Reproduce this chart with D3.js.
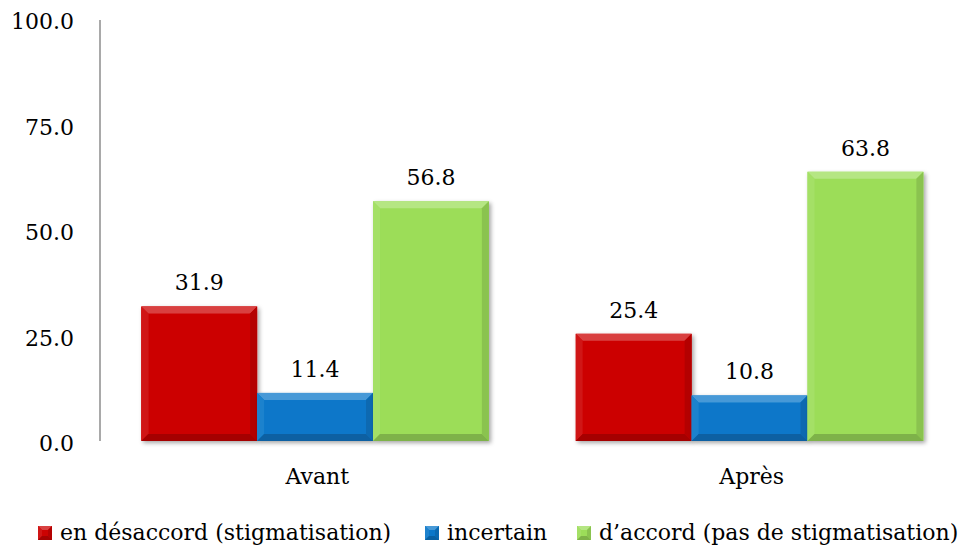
<!DOCTYPE html>
<html>
<head>
<meta charset="utf-8">
<script src="https://cdn.jsdelivr.net/npm/d3@7"></script>
<style>
  html, body { margin: 0; padding: 0; background: #fff; overflow: hidden; }
</style>
</head>
<body>
<svg id="chart" width="958" height="548"></svg>
<script>
const categories = ["Avant", "Après"];
const seriesNames = ["en désaccord (stigmatisation)", "incertain", "d’accord (pas de stigmatisation)"];
const seriesColors = ["#CC0202", "#0A77C9", "#9CDD59"];
const avantValues = [31.9, 11.4, 56.8];
const apresValues = [25.4, 10.8, 63.8];
const yTicks = [0, 25, 50, 75, 100];

const values = [avantValues, apresValues];

const FONT = "DejaVu Serif";
const svg = d3.select("#chart");
const fontSize = 22;

const plotLeft = 100, plotRight = 969, plotTop = 19, plotBottom = 441;

const x0 = d3.scaleBand().domain(categories).range([plotLeft, plotRight]).padding(0);
const bw = x0.bandwidth();
const x1 = d3.scaleBand().domain(seriesNames).range([bw * 0.095, bw * 0.895]).padding(0);
const y = d3.scaleLinear().domain([0, 100]).range([plotBottom, plotTop]);

const defs = svg.append("defs");
const f = defs.append("filter").attr("id", "shadow").attr("x", "-10%").attr("y", "-10%").attr("width", "130%").attr("height", "130%");
f.append("feDropShadow").attr("dx", 2).attr("dy", 2).attr("stdDeviation", 2).attr("flood-color", "#000").attr("flood-opacity", 0.35);
const f2 = defs.append("filter").attr("id", "axshadow").attr("x", "-5%").attr("y", "-50%").attr("width", "110%").attr("height", "300%");
f2.append("feDropShadow").attr("dx", 0).attr("dy", 2).attr("stdDeviation", 1).attr("flood-color", "#000").attr("flood-opacity", 0.25);

function bevel(g, x, yy, w, h, color, b) {
  b = Math.min(b, h / 2, w / 2);
  const c = d3.color(color);
  g.append("rect").attr("x", x).attr("y", yy).attr("width", w).attr("height", h).attr("fill", color);
  const topC = d3.interpolateRgb(color, "#ffffff")(0.25);
  const leftC = d3.interpolateRgb(color, "#ffffff")(0.08);
  const rightC = c.darker(0.35).formatRgb();
  const botC = c.darker(0.6).formatRgb();
  const poly = (pts, fill) => g.append("polygon").attr("points", pts.map(p => p.join(",")).join(" ")).attr("fill", fill);
  poly([[x, yy], [x + w, yy], [x + w - b, yy + b], [x + b, yy + b]], topC);
  poly([[x, yy], [x + b, yy + b], [x + b, yy + h - b], [x, yy + h]], leftC);
  poly([[x + w, yy], [x + w, yy + h], [x + w - b, yy + h - b], [x + w - b, yy + b]], rightC);
  poly([[x, yy + h], [x + b, yy + h - b], [x + w - b, yy + h - b], [x + w, yy + h]], botC);
}

function styleText(sel) {
  sel.attr("font-family", FONT).attr("font-size", fontSize).attr("fill", "#000");
}

const axisColor = "#8c8c8c";
svg.append("line").attr("x1", plotLeft).attr("x2", 958).attr("y1", plotBottom).attr("y2", plotBottom)
  .attr("stroke", axisColor).attr("stroke-width", 1.5).attr("filter", "url(#axshadow)");
svg.append("line").attr("x1", plotLeft).attr("x2", plotLeft).attr("y1", y(100) + 1).attr("y2", plotBottom)
  .attr("stroke", axisColor).attr("stroke-width", 1.5);

const yAxis = d3.axisLeft(y).tickValues(yTicks).tickSize(0).tickPadding(26).tickFormat(d3.format(".1f"));
const gy = svg.append("g").attr("transform", `translate(${plotLeft},0)`).call(yAxis);
gy.select(".domain").remove();
gy.attr("font-family", null).attr("font-size", null);
gy.selectAll("text").call(styleText).attr("dy", "0.45em");

const xAxis = d3.axisBottom(x0).tickSize(0).tickPadding(27);
const gx = svg.append("g").attr("transform", `translate(0,${plotBottom})`).call(xAxis);
gx.select(".domain").remove();
gx.attr("font-family", null).attr("font-size", null);
gx.selectAll("text").call(styleText);

const groups = svg.append("g").selectAll("g").data(categories).join("g")
  .attr("transform", d => `translate(${x0(d)},0)`);
groups.each(function (cat, ci) {
  const g = d3.select(this);
  seriesNames.forEach((s, si) => {
    const v = values[ci][si];
    const bx = x1(s), by = y(v), bwid = x1.bandwidth(), bh = y(0) - y(v);
    const bg = g.append("g").attr("filter", "url(#shadow)");
    bevel(bg, bx, by, bwid, bh, seriesColors[si], 7);
    g.append("text").attr("x", bx + bwid / 2).attr("y", by - 16)
      .attr("text-anchor", "middle").call(styleText).text(d3.format(".1f")(v));
  });
});

const legendX = [38, 425, 577];
const legend = svg.append("g");
seriesNames.forEach((s, i) => {
  const lg = legend.append("g");
  bevel(lg, legendX[i], 526, 14, 14, seriesColors[i], 4);
  lg.append("text").attr("x", legendX[i] + 22).attr("y", 540).call(styleText).text(s);
});
</script>
</body>
</html>
